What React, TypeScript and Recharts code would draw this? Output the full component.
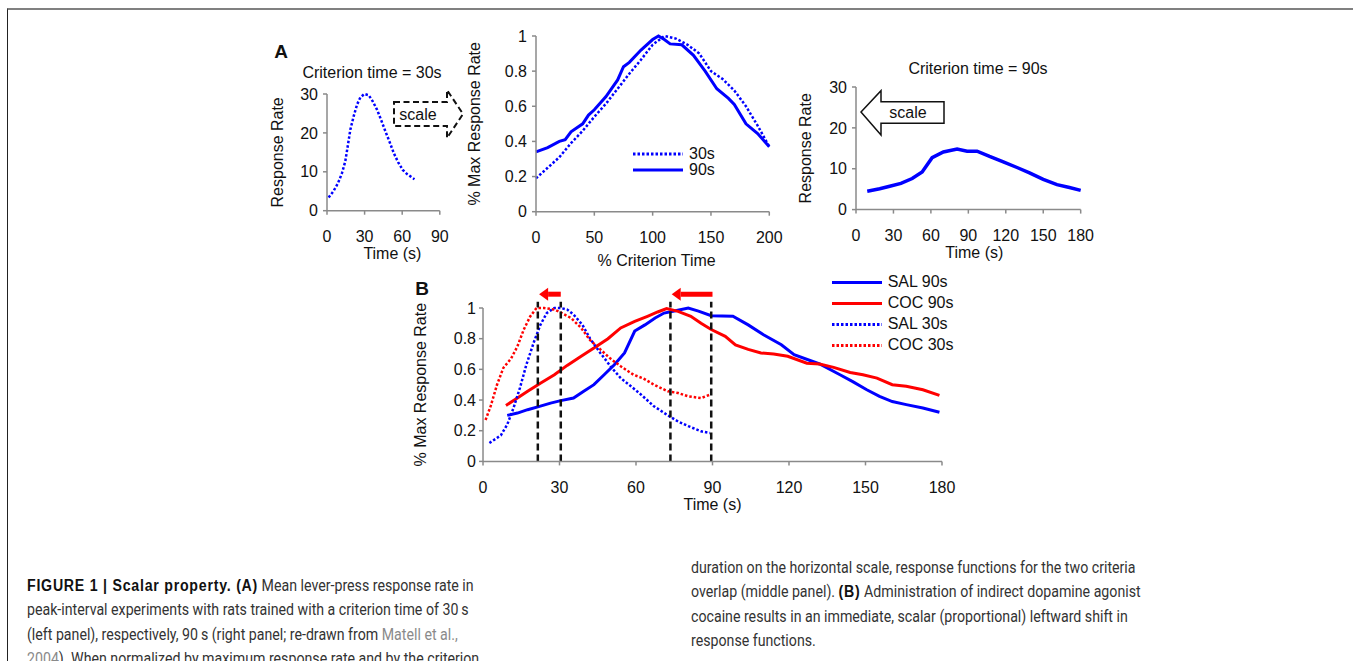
import React from 'react';
import { LineChart, Line, XAxis, YAxis, Legend, ReferenceLine } from 'recharts';

// Panel A left: criterion time = 30 s
const timeA30 = [1.3, 5.3, 8.8, 12, 14.6, 16.5, 18.6, 21.3, 24, 26.6, 29.8, 33.3, 36.5, 39.9, 43.1, 46.6, 49.8, 53.3, 56.7, 60.4, 63.9, 69.8];
const rateA30 = [3.4, 5.1, 7.1, 9.7, 12.7, 16.5, 20.8, 24.3, 27.3, 29.1, 30, 29.7, 28.1, 26, 23.4, 20.4, 17.8, 14.8, 12.5, 10.5, 9.4, 8.1];

// Panel A right: criterion time = 90 s
const timeA90 = [9, 19, 27, 36, 45, 53, 61, 70, 81, 89, 97, 107, 118, 129, 139, 150, 161, 171, 180];
const rateA90 = [4.5, 5.1, 5.7, 6.4, 7.6, 9.2, 12.7, 14.1, 14.8, 14.3, 14.3, 13.0, 11.7, 10.3, 9.0, 7.4, 6.1, 5.4, 4.7];

// Panel A middle: normalized by max rate and criterion time
const pctTime30 = [0, 10, 20, 30, 40, 50, 60, 70, 80, 90, 100, 110, 120, 130, 140, 150, 160, 170, 180, 190, 200];
const pctRate30 = [0.19, 0.25, 0.31, 0.39, 0.46, 0.54, 0.615, 0.7, 0.785, 0.865, 0.95, 1.0, 0.985, 0.95, 0.9, 0.8, 0.755, 0.69, 0.6, 0.49, 0.37];
const pctTime90 = [0, 10, 20, 25, 30, 40, 45, 50, 60, 70, 75, 80, 90, 100, 105, 110, 115, 125, 135, 145, 155, 165, 170, 180, 190, 200];
const pctRate90 = [0.34, 0.365, 0.4, 0.41, 0.455, 0.5, 0.55, 0.58, 0.655, 0.75, 0.825, 0.85, 0.92, 0.98, 1.0, 0.98, 0.955, 0.95, 0.89, 0.8, 0.7, 0.645, 0.61, 0.5, 0.445, 0.37];

// Panel B: saline vs cocaine
const salTime90 = [9.5, 13.5, 17.5, 22.5, 26.5, 30.5, 35.5, 39.5, 43.5, 47.5, 51.5, 55.5, 59.5, 63.5, 67.5, 71, 75, 80.5, 84.5, 89.5, 98, 104, 110, 117, 122, 132, 140, 145, 150.5, 155.5, 160.5, 166, 172.5, 179];
const salRate90 = [0.3, 0.315, 0.337, 0.36, 0.38, 0.396, 0.413, 0.457, 0.5, 0.565, 0.63, 0.707, 0.85, 0.89, 0.935, 0.967, 0.98, 1.0, 0.98, 0.95, 0.946, 0.89, 0.826, 0.76, 0.696, 0.635, 0.565, 0.52, 0.467, 0.424, 0.39, 0.37, 0.348, 0.32];
const cocTime90 = [9, 13.5, 17.5, 22.5, 28, 33, 38.5, 43.5, 49, 54, 59.5, 64.5, 68.5, 72, 76.5, 81.5, 85.5, 89.5, 95, 99, 104, 109, 114, 119.5, 127, 132, 137.5, 144, 149, 154.5, 160.5, 166, 172.5, 179];
const cocRate90 = [0.365, 0.413, 0.457, 0.51, 0.565, 0.626, 0.685, 0.74, 0.8, 0.87, 0.913, 0.946, 0.974, 0.996, 0.978, 0.946, 0.9, 0.86, 0.815, 0.76, 0.73, 0.707, 0.7, 0.685, 0.64, 0.635, 0.613, 0.58, 0.565, 0.543, 0.5, 0.49, 0.467, 0.43];
const salTime30 = [2.5, 7, 9.5, 12, 14.5, 17, 20, 22.5, 25, 28, 30.5, 33, 35.5, 39, 42, 46, 50, 54, 58, 62, 67, 72.5, 76.5, 80.5, 85.5, 89];
const salRate30 = [0.12, 0.17, 0.24, 0.35, 0.48, 0.63, 0.78, 0.89, 0.967, 1.0, 1.0, 0.99, 0.957, 0.89, 0.8, 0.707, 0.62, 0.543, 0.49, 0.435, 0.36, 0.3, 0.26, 0.23, 0.196, 0.185];
const cocTime30 = [1, 3, 5.5, 8, 11, 13.5, 16, 18.5, 21, 24, 28, 30.5, 34.5, 38.5, 42, 46, 50, 54, 59, 63, 67, 72.5, 76.5, 80.5, 85.5, 89];
const cocRate30 = [0.27, 0.36, 0.5, 0.61, 0.67, 0.75, 0.86, 0.945, 1.0, 1.0, 0.99, 0.97, 0.935, 0.87, 0.79, 0.73, 0.67, 0.62, 0.565, 0.54, 0.5, 0.457, 0.446, 0.424, 0.413, 0.435];

// peak times and the leftward shift under cocaine
const peakLines = [21.5, 30.5, 73.5, 89.5];
const shiftArrows = [
  { from: 30.5, to: 22 },
  { from: 90, to: 74 },
];

const ticks90 = [0, 30, 60, 90];
const ticks180 = [0, 30, 60, 90, 120, 150, 180];
const ticksPct = [0, 50, 100, 150, 200];
const ticksRate = [0, 10, 20, 30];
const ticksNorm = [0, 0.2, 0.4, 0.6, 0.8, 1];

const BLUE = '#0000ff';
const RED = '#ff0000';
const DOTS = '2.5 2';

const zip = (xs: number[], ys: number[]) => xs.map((x, i) => ({ x, y: ys[i] }));

const axisLine = { stroke: '#8a8a8a', strokeWidth: 1.5 };
const tickText = { fill: '#111', fontSize: 16 };
const labelText = { fill: '#111', fontSize: 16, textAnchor: 'middle' as const };

const legendOrder = ['30s', '90s', 'SAL 90s', 'COC 90s', 'SAL 30s', 'COC 30s'];
const legendDash: Record<string, string | undefined> = {
  '30s': DOTS,
  'SAL 30s': DOTS,
  'COC 30s': DOTS,
};

const legendRows = (rowHeight: number) => (props: any) => {
  const items = [...(props.payload ?? [])].sort(
    (a: any, b: any) => legendOrder.indexOf(a.value) - legendOrder.indexOf(b.value),
  );
  return (
    <div style={{ fontSize: 16, color: '#111', fontFamily: 'Liberation Sans, Arial, sans-serif' }}>
      {items.map((entry: any) => (
        <div key={entry.value} style={{ display: 'flex', alignItems: 'center', height: rowHeight, lineHeight: `${rowHeight}px` }}>
          <svg width={50} height={rowHeight}>
            <line
              x1={0}
              x2={50}
              y1={rowHeight / 2}
              y2={rowHeight / 2}
              stroke={entry.color}
              strokeWidth={3}
              strokeDasharray={legendDash[entry.value]}
            />
          </svg>
          <span style={{ marginLeft: 6, whiteSpace: 'nowrap' }}>{entry.value}</span>
        </div>
      ))}
    </div>
  );
};

const ShiftArrow = (props: any) => {
  const { x1, y1, x2, y2 } = props;
  const dir = x2 < x1 ? -1 : 1;
  const base = x2 - dir * 9;
  return (
    <g>
      <line x1={x1} y1={y1} x2={base} y2={y2} stroke={RED} strokeWidth={5} />
      <path d={`M${x2},${y2} L${base},${y2 - 6.5} L${base},${y2 + 6.5} Z`} fill={RED} />
    </g>
  );
};

const Abs = ({ left, top, children, style }: any) => (
  <div style={{ position: 'absolute', left, top, ...style }}>{children}</div>
);

const Centered = ({ x, y, children, style }: any) => (
  <div
    style={{
      position: 'absolute',
      left: x,
      top: y,
      transform: 'translate(-50%, -50%)',
      whiteSpace: 'nowrap',
      fontSize: 16,
      lineHeight: '16px',
      color: '#111',
      ...style,
    }}
  >
    {children}
  </div>
);

const gray = { color: '#8a8a8a' };
const bold = {
  color: '#111',
  fontWeight: 'bold' as const,
  letterSpacing: '0.85px',
  fontFamily: '"Liberation Sans", Arial, sans-serif',
};
const captionStyle = {
  position: 'absolute' as const,
  fontSize: 16,
  lineHeight: '24.3px',
  color: '#333',
  whiteSpace: 'nowrap' as const,
  fontFamily: 'Roboto, "Liberation Sans", sans-serif',
  transform: 'scaleX(0.886)',
  transformOrigin: 'left top',
};

export default function App() {
  return (
    <div
      style={{
        position: 'absolute',
        left: 0,
        top: 0,
        width: 1353,
        height: 661,
        background: '#fff',
        overflow: 'hidden',
        fontFamily: 'Liberation Sans, Arial, sans-serif',
      }}
    >
      {/* frame */}
      <div style={{ position: 'absolute', left: 7, top: 8, width: 1346, height: 653, borderTop: '2px solid #808080', borderLeft: '1px solid #222' }} />

      <Centered x={281} y={52} style={{ fontWeight: 'bold', fontSize: 19 }}>A</Centered>
      <Centered x={422} y={289} style={{ fontWeight: 'bold', fontSize: 19 }}>B</Centered>
      <Centered x={372} y={73}>Criterion time = 30s</Centered>
      <Centered x={978} y={69}>Criterion time = 90s</Centered>

      {/* A left */}
      <Abs left={266.5} top={84.3}>
        <LineChart width={192.8} height={181.7} margin={{ top: 10, right: 20, bottom: 0, left: 0 }}>
          <XAxis
            type="number"
            dataKey="x"
            domain={[0, 90]}
            ticks={ticks90}
            interval={0}
            height={55}
            axisLine={axisLine}
            tickLine={axisLine}
            tickSize={4}
            tickMargin={16}
            tick={tickText}
            label={{ value: 'Time (s)', position: 'insideBottom', offset: 7, dx: 9, style: labelText }}
          />
          <YAxis
            type="number"
            domain={[0, 30]}
            ticks={ticksRate}
            interval={0}
            width={60}
            axisLine={axisLine}
            tickLine={axisLine}
            tickSize={4}
            tickMargin={5}
            tick={tickText}
            label={{ value: 'Response Rate', angle: -90, position: 'insideLeft', offset: 10, style: labelText }}
          />
          <Line data={zip(timeA30, rateA30)} dataKey="y" type="linear" stroke={BLUE} strokeWidth={2.5} strokeDasharray={DOTS} dot={false} isAnimationActive={false} />
        </LineChart>
      </Abs>

      {/* A middle */}
      <Abs left={466} top={26}>
        <LineChart width={323.3} height={245.7} margin={{ top: 10, right: 20, bottom: 0, left: 0 }}>
          <XAxis
            type="number"
            dataKey="x"
            domain={[0, 200]}
            ticks={ticksPct}
            interval={0}
            height={60}
            axisLine={axisLine}
            tickLine={axisLine}
            tickSize={4}
            tickMargin={16}
            tick={tickText}
            label={{ value: '% Criterion Time', position: 'insideBottom', offset: 6, dx: 4, style: labelText }}
          />
          <YAxis
            type="number"
            domain={[0, 1]}
            ticks={ticksNorm}
            interval={0}
            width={70}
            axisLine={axisLine}
            tickLine={axisLine}
            tickSize={4}
            tickMargin={5}
            tick={tickText}
            label={{ value: '% Max Response Rate', angle: -90, position: 'insideLeft', offset: 8, style: labelText }}
          />
          <Line name="30s" data={zip(pctTime30, pctRate30)} dataKey="y" type="linear" stroke={BLUE} strokeWidth={2.5} strokeDasharray={DOTS} dot={false} isAnimationActive={false} />
          <Line name="90s" data={zip(pctTime90, pctRate90)} dataKey="y" type="linear" stroke={BLUE} strokeWidth={3} dot={false} isAnimationActive={false} />
          <Legend
            layout="vertical"
            align="center"
            verticalAlign="middle"
            wrapperStyle={{ left: 167, top: 120, width: 'auto', height: 'auto' }}
            content={legendRows(16)}
          />
        </LineChart>
      </Abs>

      {/* A right */}
      <Abs left={796} top={76.7}>
        <LineChart width={304.7} height={187.6} margin={{ top: 10, right: 20, bottom: 0, left: 0 }}>
          <XAxis
            type="number"
            dataKey="x"
            domain={[0, 180]}
            ticks={ticks180}
            interval={0}
            height={55}
            axisLine={axisLine}
            tickLine={axisLine}
            tickSize={4}
            tickMargin={16}
            tick={tickText}
            label={{ value: 'Time (s)', position: 'insideBottom', offset: 7, dx: 6, style: labelText }}
          />
          <YAxis
            type="number"
            domain={[0, 30]}
            ticks={ticksRate}
            interval={0}
            width={60}
            axisLine={axisLine}
            tickLine={axisLine}
            tickSize={4}
            tickMargin={5}
            tick={tickText}
            label={{ value: 'Response Rate', angle: -90, position: 'insideLeft', offset: 9, style: labelText }}
          />
          <Line data={zip(timeA90, rateA90)} dataKey="y" type="linear" stroke={BLUE} strokeWidth={3.5} dot={false} isAnimationActive={false} />
        </LineChart>
      </Abs>

      {/* B */}
      <Abs left={412.7} top={278.3}>
        <LineChart width={549} height={243.4} margin={{ top: 30, right: 20, bottom: 0, left: 0 }}>
          <XAxis
            type="number"
            dataKey="x"
            domain={[0, 180]}
            ticks={ticks180}
            interval={0}
            height={60}
            axisLine={axisLine}
            tickLine={axisLine}
            tickSize={4}
            tickMargin={16}
            tick={tickText}
            label={{ value: 'Time (s)', position: 'insideBottom', offset: 11, style: labelText }}
          />
          <YAxis
            type="number"
            domain={[0, 1]}
            ticks={ticksNorm}
            interval={0}
            width={70}
            axisLine={axisLine}
            tickLine={axisLine}
            tickSize={4}
            tickMargin={3}
            tick={tickText}
            label={{ value: '% Max Response Rate', angle: -90, position: 'insideLeft', offset: 7, style: labelText }}
          />
          <Line name="SAL 90s" data={zip(salTime90, salRate90)} dataKey="y" type="linear" stroke={BLUE} strokeWidth={3} dot={false} isAnimationActive={false} />
          <Line name="COC 90s" data={zip(cocTime90, cocRate90)} dataKey="y" type="linear" stroke={RED} strokeWidth={3} dot={false} isAnimationActive={false} />
          <Line name="SAL 30s" data={zip(salTime30, salRate30)} dataKey="y" type="linear" stroke={BLUE} strokeWidth={2.5} strokeDasharray={DOTS} dot={false} isAnimationActive={false} />
          <Line name="COC 30s" data={zip(cocTime30, cocRate30)} dataKey="y" type="linear" stroke={RED} strokeWidth={2.5} strokeDasharray={DOTS} dot={false} isAnimationActive={false} />
          {peakLines.map((x) => (
            <ReferenceLine
              key={x}
              segment={[{ x, y: 0 }, { x, y: 1.04 }]}
              stroke="#111"
              strokeWidth={2.5}
              strokeDasharray="7 4"
              ifOverflow="visible"
            />
          ))}
          {shiftArrows.map((a) => (
            <ReferenceLine
              key={a.from}
              segment={[{ x: a.from, y: 1.09 }, { x: a.to, y: 1.09 }]}
              ifOverflow="visible"
              shape={ShiftArrow}
            />
          ))}
          <Legend
            layout="vertical"
            align="center"
            verticalAlign="middle"
            wrapperStyle={{ left: 419, top: -6, width: 'auto', height: 'auto' }}
            content={legendRows(20.8)}
          />
        </LineChart>
      </Abs>

      {/* "scale" arrows */}
      <svg style={{ position: 'absolute', left: 0, top: 0 }} width={1353} height={300}>
        <polygon
          points="394,102 447,102 447,90 463,114 447,138 447,126 394,126"
          fill="none"
          stroke="#111"
          strokeWidth={2}
          strokeDasharray="6 3.5"
        />
        <polygon
          points="861,112 881,90.7 881,101.7 944,101.7 944,123.3 881,123.3 881,135"
          fill="#fff"
          stroke="#111"
          strokeWidth={1.5}
        />
      </svg>
      <Centered x={418} y={115}>scale</Centered>
      <Centered x={908} y={113}>scale</Centered>

      {/* caption */}
      <div style={{ ...captionStyle, left: 27, top: 574 }}>
        <div><span style={bold}>FIGURE 1 | Scalar property. (A)</span> Mean lever-press response rate in</div>
        <div>peak-interval experiments with rats trained with a criterion time of 30{'\u2009'}s</div>
        <div>(left panel), respectively, 90{'\u2009'}s (right panel; re-drawn from <span style={gray}>Matell et al.,</span></div>
        <div><span style={gray}>2004</span>). When normalized by maximum response rate and by the criterion</div>
      </div>
      <div style={{ ...captionStyle, left: 691, top: 556 }}>
        <div>duration on the horizontal scale, response functions for the two criteria</div>
        <div>overlap (middle panel). <span style={bold}>(B)</span> Administration of indirect dopamine agonist</div>
        <div>cocaine results in an immediate, scalar (proportional) leftward shift in</div>
        <div>response functions.</div>
      </div>
    </div>
  );
}
